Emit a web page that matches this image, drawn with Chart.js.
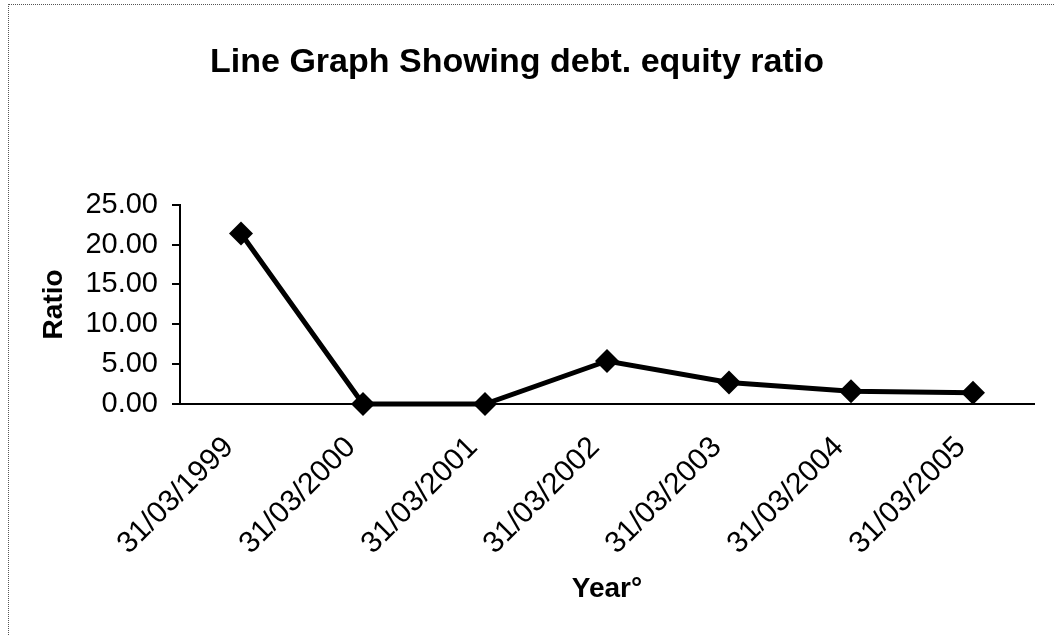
<!DOCTYPE html>
<html>
<head>
<meta charset="utf-8">
<script src="https://cdn.jsdelivr.net/npm/chart.js@4"></script>
<style>
  html, body { margin: 0; padding: 0; background: #fff; }
  #wrap { position: relative; width: 1054px; height: 635px; overflow: hidden; }
  #frame { position: absolute; left: 8px; top: 4px; right: -10px; bottom: -10px;
           border-top: 1px dotted #555; border-left: 1px dotted #555; }
  canvas { position: absolute; left: 0; top: 0; }
</style>
</head>
<body>
<div id="wrap">
  <div id="frame"></div>
  <canvas id="chartCanvas" width="1054" height="635"></canvas>
</div>
<script>
// data
const years = ["31/03/1999", "31/03/2000", "31/03/2001", "31/03/2002",
               "31/03/2003", "31/03/2004", "31/03/2005"];
const ratios = [21.4, 0.0, 0.0, 5.4, 2.7, 1.6, 1.4];
const yTicks = [0, 5, 10, 15, 20, 25];

const FONT = "'Liberation Sans', Arial, sans-serif";

const ctx = document.getElementById("chartCanvas").getContext("2d");
const chart = new Chart(ctx, {
  type: "line",
  data: {
    labels: years,
    datasets: [{
      label: "Ratio",
      data: ratios,
      borderColor: "#000",
      backgroundColor: "#000",
      borderWidth: 5,
      pointStyle: "rectRot",
      pointRadius: 12,
      pointBorderWidth: 0,
      fill: false,
      clip: false,
      tension: 0
    }]
  },
  options: {
    responsive: false,
    animation: false,
    layout: { padding: { left: 0, right: 20, top: 0, bottom: 0 } },
    plugins: {
      legend: { display: false },
      tooltip: { enabled: false },
      title: {
        display: true,
        text: "Line Graph Showing debt. equity ratio",
        color: "#000",
        font: { family: FONT, size: 34, weight: "bold" },
        padding: { top: 42, bottom: 122 }
      }
    },
    scales: {
      x: {
        offset: true,
        grid: { display: false, drawTicks: false },
        border: { display: true, color: "#000", width: 2 },
        ticks: {
          autoSkip: false,
          minRotation: 45,
          maxRotation: 45,
          padding: 26,
          labelOffset: -12,
          color: "#000",
          font: { family: FONT, size: 30 }
        },
        title: {
          display: true,
          text: "Year°",
          color: "#000",
          font: { family: FONT, size: 28, weight: "bold" },
          padding: { top: 0, bottom: 29 }
        },
        afterFit: (scale) => { scale.height = 231; }
      },
      y: {
        min: 0,
        max: 25,
        afterBuildTicks: (scale) => { scale.ticks = yTicks.map(v => ({ value: v })); },
        grid: { drawOnChartArea: false, drawTicks: true, tickLength: 8, color: "#000", lineWidth: 2 },
        border: { display: true, color: "#000", width: 2 },
        ticks: {
          padding: 14,
          color: "#000",
          font: { family: FONT, size: 29 },
          callback: (v) => Number(v).toFixed(2)
        },
        title: {
          display: true,
          text: "Ratio",
          color: "#000",
          font: { family: FONT, size: 28, weight: "bold" },
          padding: { top: 37, bottom: 0 }
        },
        afterFit: (scale) => { scale.width = 180; }
      }
    }
  }
});
</script>
</body>
</html>
